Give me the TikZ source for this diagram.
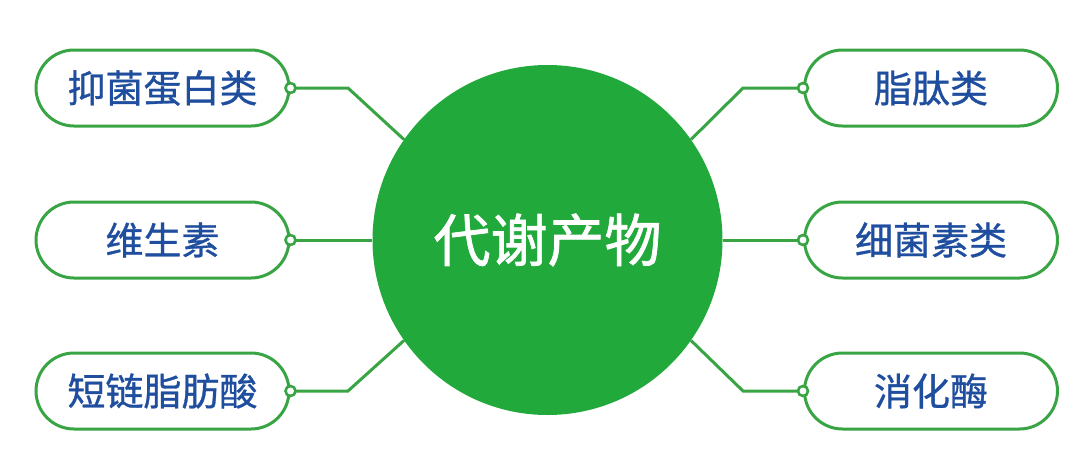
\documentclass[tikz,border=0pt]{standalone}
\usepackage{fontspec}
\newfontfamily\cjk[FakeBold=0.8]{Noto Sans CJK SC}
\newfontfamily\cjkc[FakeBold=1.2]{Noto Sans CJK SC}
\definecolor{cgreen}{HTML}{22A93B}
\definecolor{lgreen}{HTML}{38A443}
\definecolor{tblue}{HTML}{1F4E9F}
\tikzset{
  item/.style={draw=lgreen, line width=3pt, fill=white, rounded corners=38pt,
    minimum width=253pt, minimum height=76pt, inner sep=0pt,
    font=\cjk\fontsize{38}{40}\selectfont, text=tblue},
  hub/.style={circle, fill=cgreen, minimum size=350pt, inner sep=0pt,
    font=\cjkc\fontsize{57}{60}\selectfont, text=white},
  link/.style={draw=lgreen, line width=3pt},
  dot/.style={circle, draw=lgreen, line width=2.6pt, fill=white, minimum size=10pt, inner sep=0pt}
}
\begin{document}
\begin{tikzpicture}[x=1pt,y=-1pt]
\useasboundingbox (0,0) rectangle (1080,453);
\node[hub] (c) at (547.5,240) {代谢产物};
\node[item] (l1) at (162.5,88) {抑菌蛋白类};
\node[item] (l2) at (162.5,240) {维生素};
\node[item] (l3) at (162.5,391) {短链脂肪酸};
\node[item] (r1) at (931,88) {脂肽类};
\node[item] (r2) at (931,240) {细菌素类};
\node[item] (r3) at (931,391) {消化酶};
\coordinate (b1) at (348,88);
\coordinate (b3) at (348,391);
\coordinate (b4) at (743,88);
\coordinate (b6) at (743,391);
\draw[link] (l1.east) -- (b1) -- (c.145);
\draw[link] (l2.east) -- (c.west);
\draw[link] (l3.east) -- (b3) -- (c.215);
\draw[link] (r1.west) -- (b4) -- (c.35);
\draw[link] (r2.west) -- (c.east);
\draw[link] (r3.west) -- (b6) -- (c.325);
\node[dot] (d1) at (l1.east) {};
\node[dot] (d2) at (l2.east) {};
\node[dot] (d3) at (l3.east) {};
\node[dot] (d4) at (r1.west) {};
\node[dot] (d5) at (r2.west) {};
\node[dot] (d6) at (r3.west) {};
\end{tikzpicture}
\end{document}
